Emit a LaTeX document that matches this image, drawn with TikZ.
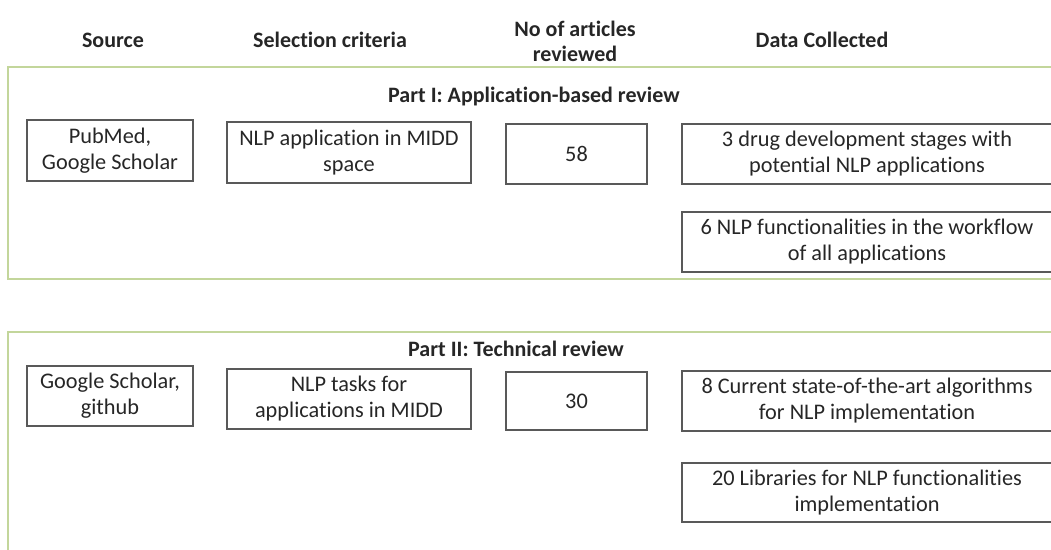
\documentclass[tikz,border=0pt]{standalone}
\usepackage{fontspec}
\setmainfont{Carlito}[Ligatures=NoCommon]
\usepackage{tikz}
\definecolor{framegreen}{HTML}{C3D69B}
\definecolor{boxgray}{HTML}{595959}
\definecolor{inkgray}{HTML}{262626}
\tikzstyle{box}=[rectangle, draw=boxgray, line width=1.4pt, align=center, inner sep=0pt, text=inkgray, font=\fontsize{22.3}{26}\selectfont]
\tikzstyle{head}=[align=center, inner sep=0pt, text=inkgray, font=\fontsize{22}{25}\selectfont\bfseries]
\tikzstyle{part_frame}=[draw=framegreen, line width=1.5pt]

\begin{document}
\begin{tikzpicture}[x=1pt, y=-1pt]
    \clip (0,0) rectangle (1051,549);

    \node (hsrc) at (113, 40) [head] {Source};
    \node (hsel) at (330, 40) [head] {Selection criteria};
    \node (hnum) at (575, 41) [head] {No of articles\\reviewed};
    \node (hdat) at (822, 40) [head] {Data Collected};

    % Part I
    \draw (8, 67) rectangle (1070, 279) [part_frame];
    \node (part1) at (388, 97) [head, anchor=west] {Part I: Application-based review};

    \node (src1) at (110, 150.5) [box, minimum width=166pt, minimum height=61pt] {PubMed,\\Google Scholar};
    \node (sel1) at (349, 152.5) [box, minimum width=244pt, minimum height=61pt] {NLP application in MIDD\\space};
    \node (num1) at (576.5, 154) [box, minimum width=141pt, minimum height=60pt] {58};
    \node (dat1a) at (867, 154) [box, minimum width=370pt, minimum height=60pt] {3 drug development stages with\\potential NLP applications};
    \node (dat1b) at (867, 242) [box, minimum width=370pt, minimum height=60pt] {6 NLP functionalities in the workflow\\of all applications};

    % Part II
    \draw (8, 332) rectangle (1070, 600) [part_frame];
    \node (part2) at (408, 349) [head, anchor=west] {Part II: Technical review};

    \node (src2) at (110, 396) [box, minimum width=166pt, minimum height=60pt] {Google Scholar,\\github};
    \node (sel2) at (349, 399) [box, minimum width=244pt, minimum height=60pt] {NLP tasks for\\applications in MIDD};
    \node (num2) at (576.5, 401) [box, minimum width=141pt, minimum height=58pt] {30};
    \node (dat2a) at (867, 401) [box, minimum width=370pt, minimum height=60pt] {8 Current state-of-the-art algorithms\\for NLP implementation};
    \node (dat2b) at (867, 492.5) [box, minimum width=370pt, minimum height=59pt] {20 Libraries for NLP functionalities\\implementation};
\end{tikzpicture}
\end{document}
